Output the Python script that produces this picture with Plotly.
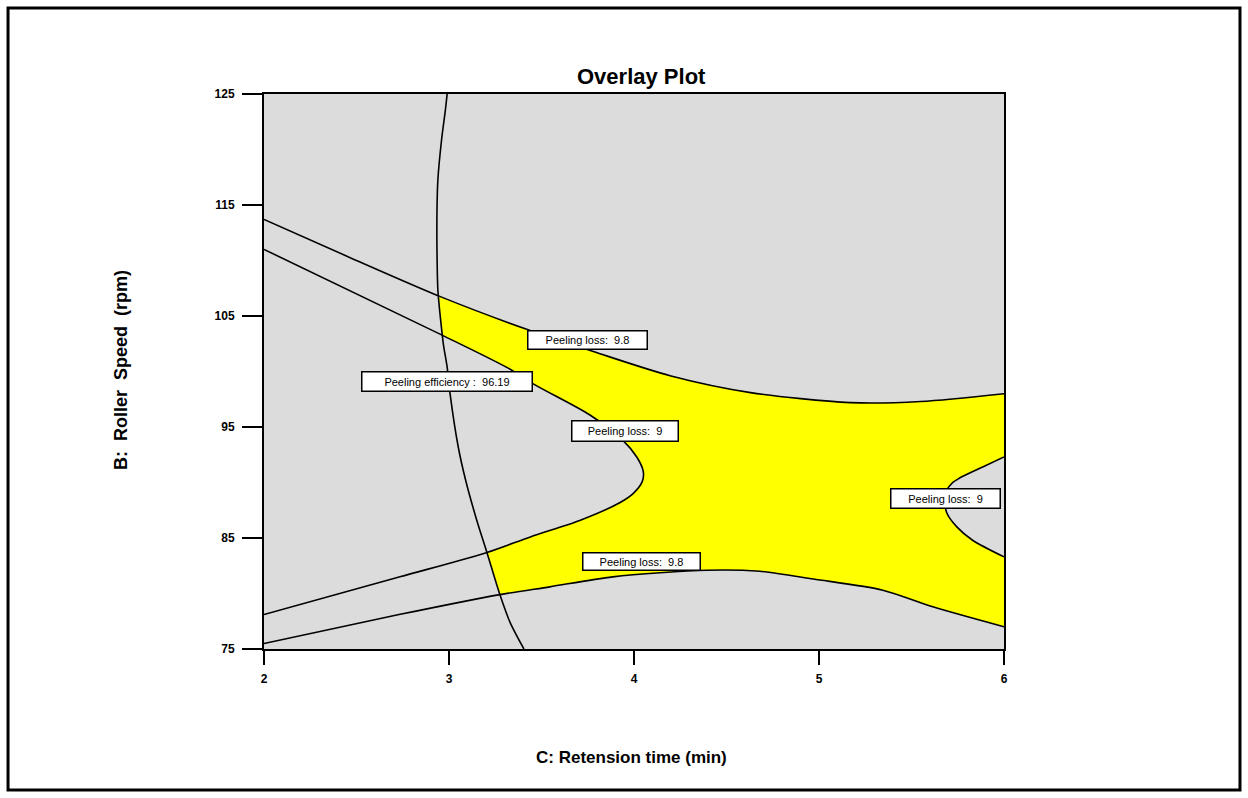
import plotly.graph_objects as go

# ---------------- data ----------------
x_ticks = [2, 3, 4, 5, 6]
y_ticks = [75, 85, 95, 105, 115, 125]
x_range = [2, 6]
y_range = [75, 125]

# Peeling efficiency = 96.19 contour
eff_x = [2.99, 2.98, 2.96, 2.94, 2.935, 2.935, 2.94, 2.955, 2.97, 2.99, 3.005, 3.05, 3.09, 3.15, 3.205, 3.275, 3.33, 3.405]
eff_y = [125, 123.5, 120.9, 117.3, 114.5, 111, 107.3, 104.6, 102.4, 100.4, 98.1, 93.2, 90.2, 86.6, 83.7, 79.9, 77.4, 75]

# Peeling loss = 9.8 (upper contour)
up98_x = [2.0, 2.46, 2.96, 3.42, 3.78, 4.2, 4.63, 5.17, 5.55, 6.0]
up98_y = [113.7, 110.3, 106.7, 103.8, 101.8, 99.6, 98.1, 97.2, 97.3, 98.0]

# Peeling loss = 9.8 (lower contour)
lo98_x = [2.0, 2.73, 3.275, 3.545, 3.885, 4.395, 4.68, 4.97, 5.345, 5.615, 6.0]
lo98_y = [75.5, 78.1, 79.9, 80.6, 81.5, 82.1, 82.0, 81.3, 80.3, 78.8, 77.0]

# Peeling loss = 9 (left branch)
l9_x = [2.0, 2.96, 3.32, 3.465, 3.76, 3.94, 4.015, 4.05, 4.045, 3.995, 3.925, 3.71, 3.44, 3.205, 2.735, 2.0]
l9_y = [111.0, 103.3, 100.3, 98.8, 96.1, 93.8, 92.3, 91.0, 90.1, 89.0, 88.2, 86.6, 85.1, 83.7, 81.5, 78.1]

# Peeling loss = 9 (right branch)
r9_x = [6.0, 5.885, 5.76, 5.72, 5.68, 5.69, 5.745, 5.83, 6.0]
r9_y = [92.3, 91.4, 90.4, 89.95, 88.9, 87.3, 86.0, 84.8, 83.3]

# contour labels
label_text = ["Peeling loss:  9.8", "Peeling efficiency :  96.19", "Peeling loss:  9",
              "Peeling loss:  9.8", "Peeling loss:  9"]
label_x = [3.751, 2.989, 3.951, 4.043, 5.686]
label_y = [102.84, 99.14, 94.64, 82.85, 88.6]
label_w = [116, 167, 103, 114, 106]
label_h = [15, 16, 17, 14, 16]

# ---------------- styles ----------------
BG = "#DCDCDC"
YELLOW = "#FFFF00"
FONT = "Liberation Sans, Arial, sans-serif"
SMOOTH = dict(shape="spline", smoothing=0.8)

fig = go.Figure()

# yellow band between the two 9.8 contours (lower edge, then fill up to upper edge)
fig.add_trace(go.Scatter(x=lo98_x, y=lo98_y, mode="lines",
                         line=dict(width=0, **SMOOTH), hoverinfo="skip", showlegend=False))
fig.add_trace(go.Scatter(x=up98_x, y=up98_y, mode="lines", fill="tonexty", fillcolor=YELLOW,
                         line=dict(width=0, **SMOOTH), hoverinfo="skip", showlegend=False))
# gray: inside left 9 branch
fig.add_trace(go.Scatter(x=l9_x, y=l9_y, mode="lines", fill="toself", fillcolor=BG,
                         line=dict(width=0, **SMOOTH), hoverinfo="skip", showlegend=False))
# gray: inside right 9 branch
fig.add_trace(go.Scatter(x=r9_x, y=r9_y, mode="lines", fill="toself", fillcolor=BG,
                         line=dict(width=0, **SMOOTH), hoverinfo="skip", showlegend=False))
# gray: left of efficiency contour
fig.add_trace(go.Scatter(x=eff_x + [x_range[0], x_range[0]], y=eff_y + [y_range[0], y_range[1]],
                         mode="lines", fill="toself", fillcolor=BG,
                         line=dict(width=0, shape="linear"), hoverinfo="skip", showlegend=False))

# contour lines
for cx, cy in [(eff_x, eff_y), (up98_x, up98_y), (lo98_x, lo98_y), (l9_x, l9_y), (r9_x, r9_y)]:
    fig.add_trace(go.Scatter(x=cx, y=cy, mode="lines",
                             line=dict(color="black", width=1.6, **SMOOTH),
                             hoverinfo="skip", showlegend=False))

annotations = []
for t, x, y, w, h in zip(label_text, label_x, label_y, label_w, label_h):
    annotations.append(dict(x=x, y=y, xref="x", yref="y", text=t, showarrow=False,
                            font=dict(family=FONT, size=11, color="black"),
                            bgcolor="white", bordercolor="black", borderwidth=1.5,
                            borderpad=1, width=w, height=h, align="center", valign="middle"))

# title and axis titles
annotations.append(dict(x=0.51, y=1.032, xref="paper", yref="paper", text="<b>Overlay Plot</b>",
                        showarrow=False, font=dict(family=FONT, size=22, color="black"),
                        xanchor="center", yanchor="middle"))
annotations.append(dict(x=0.496, y=-0.195, xref="paper", yref="paper",
                        text="<b>C: Retension time (min)</b>", showarrow=False,
                        font=dict(family=FONT, size=17, color="black"),
                        xanchor="center", yanchor="middle"))
annotations.append(dict(x=-0.193, y=0.503, xref="paper", yref="paper",
                        text="<b>B:  Roller  Speed  (rpm)</b>", showarrow=False, textangle=-90,
                        font=dict(family=FONT, size=18, color="black"),
                        xanchor="center", yanchor="middle"))

axis_common = dict(showline=True, linecolor="black", linewidth=2, mirror=True,
                   ticks="outside", tickcolor="black", tickwidth=2,
                   showgrid=False, zeroline=False,
                   tickfont=dict(family=FONT, size=12, color="black"))

fig.update_layout(
    width=1248, height=798,
    margin=dict(l=264, r=244, t=94, b=149),
    paper_bgcolor="white", plot_bgcolor=BG,
    xaxis=dict(range=x_range, tickvals=x_ticks, ticktext=[f"<b>{v}</b>" for v in x_ticks],
               ticklen=14, ticklabelstandoff=4, **axis_common),
    yaxis=dict(range=y_range, tickvals=y_ticks, ticktext=[f"<b>{v}</b>" for v in y_ticks],
               ticklen=20, ticklabelstandoff=5, **axis_common),
    annotations=annotations,
    shapes=[dict(type="rect", xref="paper", yref="paper",
                 x0=-0.3459, x1=1.3189, y0=-0.2541, y1=1.155,
                 line=dict(color="black", width=3), fillcolor="rgba(0,0,0,0)", layer="above")],
    showlegend=False,
)

fig.write_html("out.html")
